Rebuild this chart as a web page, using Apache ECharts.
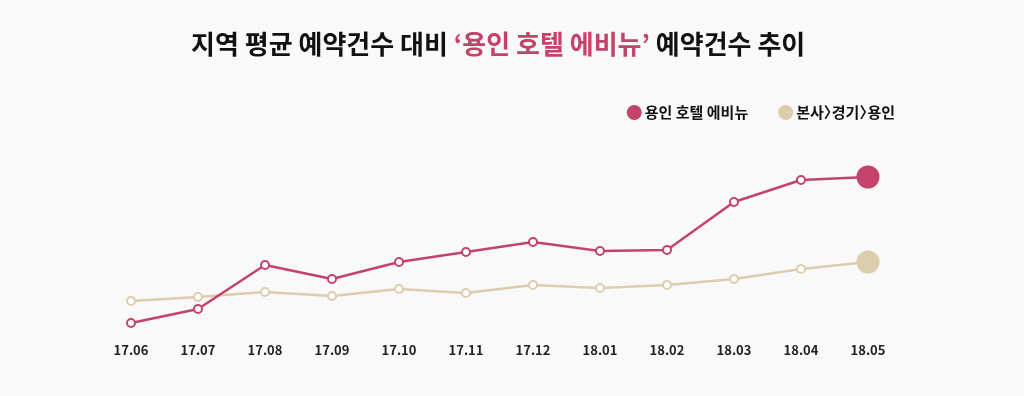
<!DOCTYPE html>
<html>
<head>
<meta charset="utf-8">
<script src="https://cdn.jsdelivr.net/npm/echarts@6/dist/echarts.min.js"></script>
<style>
  html, body { margin: 0; padding: 0; background: #faf9f9; }
  #chart { width: 1024px; height: 396px; }
</style>
</head>
<body>
<div id="chart"></div>
<script>
// 월별 예약건수 추이 (상대값)
const months = ['17.06', '17.07', '17.08', '17.09', '17.10', '17.11', '17.12', '18.01', '18.02', '18.03', '18.04', '18.05']
const hotelName = '용인 호텔 에비뉴'
const regionName = '본사〉경기〉용인'
const hotelValues = [7, 21, 65, 51, 68, 78, 88, 79, 80, 128, 150, 153]
const regionValues = [29, 33, 38, 34, 41, 37, 45, 42, 45, 51, 61, 68]

const RED = '#c4436a'
const BEIGE = '#dccdac'
const FONT = '"Noto Sans CJK KR", "Noto Sans", sans-serif'

// 마지막 점만 크게 채운 원으로
const toPoints = (values, color) => values.map((v, i) => {
  if (i === values.length - 1) {
    return { value: v, symbolSize: 23, itemStyle: { color: color, borderWidth: 0 } }
  }
  return v
})

// 〉 뒤 여백 줄이기
const legendLabel = (name) => {
  if (name.indexOf('〉') < 0) return '{t|' + name + '}'
  return name.split('〉').map(s => '{t|' + s + '}').join('{g|〉}')
}

const option = {
  backgroundColor: '#faf9f9',
  animation: false,
  title: {
    text: '지역 평균 예약건수 대비 {hl|‘용인 호텔 에비뉴’} 예약건수 추이',
    left: 186,
    top: 26,
    textStyle: {
      fontFamily: FONT,
      fontSize: 26,
      fontWeight: 'bold',
      color: '#111',
      rich: {
        hl: {
          fontFamily: FONT,
          fontSize: 26,
          fontWeight: 'bold',
          color: RED
        }
      }
    }
  },
  legend: {
    data: [
      { name: hotelName, icon: 'circle', itemStyle: { color: RED, borderWidth: 0 } },
      { name: regionName, icon: 'circle', itemStyle: { color: BEIGE, borderWidth: 0 } }
    ],
    right: 124,
    top: 100,
    itemWidth: 15,
    itemHeight: 15,
    itemGap: 30,
    formatter: legendLabel,
    textStyle: {
      fontFamily: FONT,
      fontSize: 15,
      fontWeight: 'bold',
      color: '#111',
      padding: [0, 0, 0, -2],
      rich: {
        t: { fontFamily: FONT, fontSize: 15, fontWeight: 'bold', color: '#111' },
        g: { fontFamily: FONT, fontSize: 15, fontWeight: 'bold', color: '#111', width: 8 }
      }
    }
  },
  grid: {
    left: 131,
    right: 156,
    top: 130,
    bottom: 66
  },
  xAxis: {
    type: 'category',
    boundaryGap: false,
    data: months,
    axisLine: { show: false },
    axisTick: { show: false },
    axisLabel: {
      fontFamily: FONT,
      fontSize: 13,
      fontWeight: 'bold',
      color: '#222',
      margin: 14
    }
  },
  yAxis: {
    type: 'value',
    min: 0,
    max: 200,
    show: false,
    splitLine: { show: false }
  },
  series: [
    {
      name: regionName,
      type: 'line',
      data: toPoints(regionValues, BEIGE),
      symbol: 'circle',
      symbolSize: 8,
      lineStyle: { color: BEIGE, width: 2.5 },
      itemStyle: { color: '#fff', borderColor: BEIGE, borderWidth: 2 },
      z: 2
    },
    {
      name: hotelName,
      type: 'line',
      data: toPoints(hotelValues, RED),
      symbol: 'circle',
      symbolSize: 8,
      lineStyle: { color: RED, width: 2.5 },
      itemStyle: { color: '#fff', borderColor: RED, borderWidth: 2 },
      z: 3
    }
  ]
}

const myChart = echarts.init(document.getElementById('chart'))
myChart.setOption(option, true)
</script>
</body>
</html>
